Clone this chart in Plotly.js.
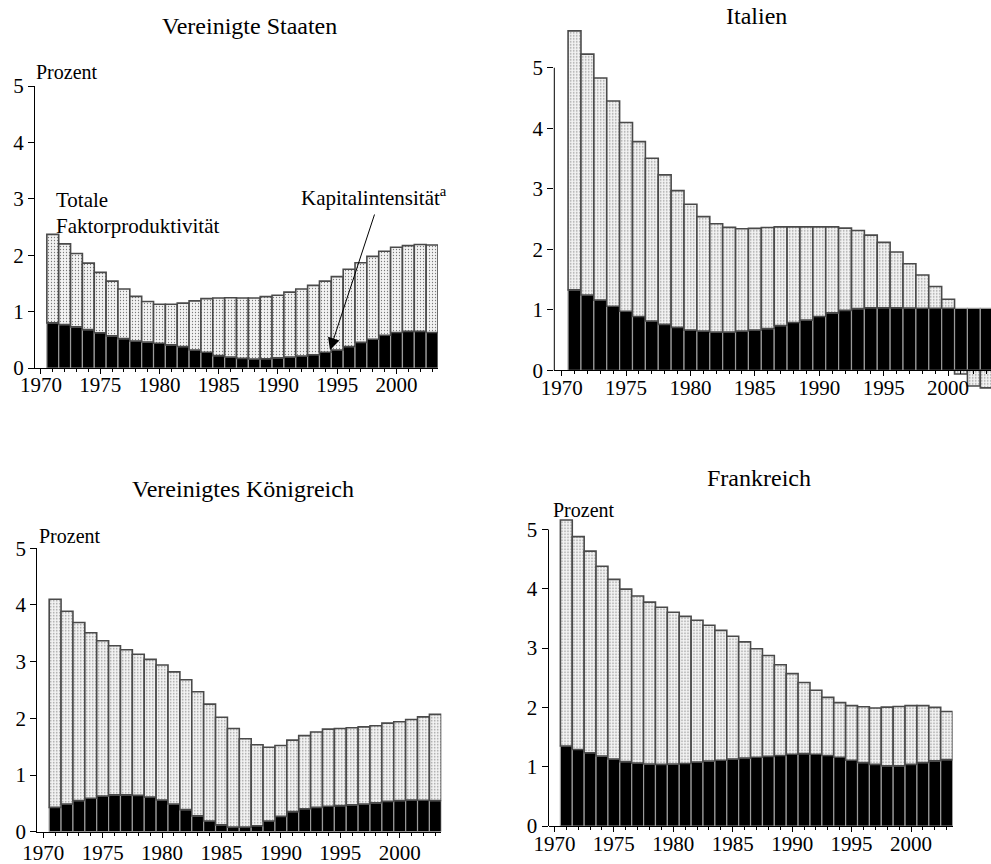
<!DOCTYPE html>
<html>
<head>
<meta charset="utf-8">
<script src="https://cdn.plot.ly/plotly-3.0.1.min.js"></script>
<style>html,body{margin:0;padding:0;background:#fff;}#chart{width:991px;height:864px;}</style>
</head>
<body>
<div id="chart"></div>
<script>
// ---- data (percent contributions) ----
const years = [1971,1972,1973,1974,1975,1976,1977,1978,1979,1980,1981,1982,1983,1984,1985,1986,1987,1988,1989,1990,1991,1992,1993,1994,1995,1996,1997,1998,1999,2000,2001,2002,2003];
const xTickVals = [1970,1975,1980,1985,1990,1995,2000];
const xTickText = ["1970","1975","1980","1985","1990","1995","2000"];
const yTickVals = [0,1,2,3,4,5];

const usCap = [0.80,0.77,0.73,0.68,0.625,0.57,0.52,0.48,0.46,0.44,0.41,0.38,0.32,0.28,0.22,0.195,0.17,0.16,0.165,0.18,0.195,0.21,0.235,0.28,0.32,0.38,0.455,0.51,0.58,0.63,0.65,0.65,0.63];
const usTfp = [1.57,1.43,1.30,1.18,1.07,0.97,0.88,0.79,0.72,0.69,0.72,0.77,0.87,0.95,1.02,1.05,1.07,1.08,1.10,1.11,1.15,1.19,1.23,1.26,1.30,1.37,1.41,1.47,1.49,1.51,1.52,1.54,1.55];

const itCap = [1.33,1.245,1.16,1.06,0.975,0.89,0.815,0.76,0.71,0.665,0.65,0.633,0.633,0.65,0.665,0.69,0.74,0.79,0.83,0.89,0.95,0.99,1.02,1.035,1.035,1.035,1.03,1.025,1.025,1.025,1.025,1.025,1.025];
const itTfp = [4.28,3.98,3.67,3.39,3.12,2.89,2.69,2.47,2.26,2.08,1.89,1.79,1.73,1.69,1.68,1.67,1.63,1.58,1.54,1.48,1.42,1.36,1.29,1.20,1.08,0.92,0.73,0.55,0.36,0.15,-0.06,-0.26,-0.29];

const ukCap = [0.43,0.49,0.55,0.59,0.63,0.65,0.65,0.64,0.61,0.56,0.49,0.39,0.28,0.19,0.12,0.08,0.08,0.105,0.19,0.27,0.355,0.405,0.43,0.45,0.46,0.475,0.49,0.51,0.535,0.55,0.56,0.555,0.55];
const ukTfp = [3.67,3.40,3.14,2.92,2.74,2.63,2.56,2.49,2.43,2.38,2.33,2.29,2.19,2.06,1.90,1.74,1.56,1.43,1.30,1.25,1.26,1.29,1.33,1.36,1.36,1.36,1.36,1.36,1.38,1.39,1.42,1.47,1.52];

const frCap = [1.35,1.29,1.235,1.18,1.13,1.085,1.06,1.045,1.04,1.045,1.055,1.08,1.095,1.11,1.13,1.145,1.16,1.175,1.19,1.21,1.22,1.21,1.19,1.16,1.11,1.07,1.04,1.015,1.015,1.04,1.07,1.10,1.12];
const frTfp = [3.81,3.59,3.40,3.20,3.03,2.91,2.82,2.73,2.65,2.56,2.48,2.39,2.29,2.19,2.07,1.96,1.83,1.70,1.53,1.36,1.20,1.08,0.98,0.92,0.92,0.94,0.95,0.99,1.00,0.99,0.96,0.90,0.81];

const titles = ["Vereinigte Staaten","Italien","Vereinigtes Königreich","Frankreich"];
const unitLabel = "Prozent";
const tfpLabel1 = "Totale";
const tfpLabel2 = "Faktorproduktivität";
const capLabel = "Kapitalintensität<sup>a</sup>";

// ---- styling ----
const FONT = "Liberation Serif, Times New Roman, serif";
const W = 991, H = 864;
const px = v => v / W;
const py = v => (H - v) / H;

function capTrace(y, ax) {
  return {type:'bar', x: years, y: y, xaxis:'x'+ax, yaxis:'y'+ax, name:'Kapitalintensität',
    marker:{color:'#000', line:{color:'#9a9a9a', width:1.2}}, hoverinfo:'skip', showlegend:false};
}
function tfpTrace(y, ax) {
  return {type:'bar', x: years, y: y, xaxis:'x'+ax, yaxis:'y'+ax, name:'Totale Faktorproduktivität',
    marker:{color:'#f3f3f3', line:{color:'#4a4a4a', width:1.6},
      pattern:{shape:'.', bgcolor:'#f3f3f3', fgcolor:'#7a7a7a', size:3, solidity:0.14}},
    hoverinfo:'skip', showlegend:false};
}

const data = [
  capTrace(usCap, ''), tfpTrace(usTfp, ''),
  capTrace(itCap, '2'), tfpTrace(itTfp, '2'),
  capTrace(ukCap, '3'), tfpTrace(ukTfp, '3'),
  capTrace(frCap, '4'), tfpTrace(frTfp, '4')
];

function xAxis(domain, range, anchor, standoff, extra) {
  return Object.assign({
    domain: domain, range: range, anchor: anchor,
    tickmode:'array', tickvals: xTickVals, ticktext: xTickText,
    ticks:'outside', ticklen:5, tickwidth:1, tickcolor:'#000',
    ticklabelstandoff: standoff,
    minor:{tickmode:'linear', tick0:1970, dtick:1, ticks:'outside', ticklen:3, tickcolor:'#000', tickwidth:1},
    showline:true, linecolor:'#000', linewidth:1,
    showgrid:false, zeroline:false, fixedrange:true,
    tickfont:{family:FONT, size:21, color:'#000'}
  }, extra || {});
}
function yAxis(domain, range, anchor, showline) {
  return {
    domain: domain, range: range, anchor: anchor,
    tickmode:'array', tickvals: yTickVals,
    ticks:'outside', ticklen:6, tickwidth:1, tickcolor:'#000',
    showline: showline, linecolor:'#000', linewidth:1,
    showgrid:false, zeroline:false, fixedrange:true,
    tickfont:{family:FONT, size:21, color:'#000'}
  };
}

const layout = {
  width: W, height: H,
  margin:{l:0, r:0, t:0, b:0},
  paper_bgcolor:'#fff', plot_bgcolor:'rgba(0,0,0,0)',
  barmode:'relative', bargap:0,
  showlegend:false,
  xaxis:  xAxis([px(35), px(438)], [1969.5, 2003.5], 'y', -7),
  yaxis:  yAxis([py(368), py(86)], [0, 5], 'x', true),
  xaxis2: xAxis([px(554.3), 1], [1969.43, 2003.33], 'free', -7, {position: py(370.3)}),
  yaxis2: yAxis([py(391.5), py(25.4)], [-0.35, 5.7], 'x2', false),
  xaxis3: xAxis([px(37.3), px(441.3)], [1969.5, 2003.5], 'y3', -3),
  yaxis3: yAxis([py(831.7), py(548.3)], [0, 5], 'x3', true),
  xaxis4: xAxis([px(548.5), px(952.6)], [1969.5, 2003.5], 'y4', -6),
  yaxis4: yAxis([py(826), py(514.7)], [0, 5.25], 'x4', false),
  shapes: [
    {type:'line', xref:'x2 domain', yref:'y2', x0:0, x1:0, y0:0, y1:5, line:{color:'#000', width:1}},
    {type:'line', xref:'x4 domain', yref:'y4', x0:0, x1:0, y0:0, y1:5, line:{color:'#000', width:1}}
  ],
  annotations: [
    {text: titles[0], xref:'paper', yref:'paper', x:px(249), y:py(26), xanchor:'center', yanchor:'middle', showarrow:false, font:{family:FONT, size:24, color:'#000'}},
    {text: titles[1], xref:'paper', yref:'paper', x:px(756), y:py(16), xanchor:'center', yanchor:'middle', showarrow:false, font:{family:FONT, size:24, color:'#000'}},
    {text: titles[2], xref:'paper', yref:'paper', x:px(243), y:py(489), xanchor:'center', yanchor:'middle', showarrow:false, font:{family:FONT, size:24, color:'#000'}},
    {text: titles[3], xref:'paper', yref:'paper', x:px(759), y:py(478), xanchor:'center', yanchor:'middle', showarrow:false, font:{family:FONT, size:24, color:'#000'}},
    {text: unitLabel, xref:'paper', yref:'paper', x:px(34), y:py(72), xanchor:'left', yanchor:'middle', showarrow:false, font:{family:FONT, size:20, color:'#000'}},
    {text: unitLabel, xref:'paper', yref:'paper', x:px(37), y:py(536), xanchor:'left', yanchor:'middle', showarrow:false, font:{family:FONT, size:20, color:'#000'}},
    {text: unitLabel, xref:'paper', yref:'paper', x:px(551), y:py(510), xanchor:'left', yanchor:'middle', showarrow:false, font:{family:FONT, size:20, color:'#000'}},
    {text: tfpLabel1, xref:'paper', yref:'paper', x:px(54), y:py(200), xanchor:'left', yanchor:'middle', showarrow:false, font:{family:FONT, size:21, color:'#000'}},
    {text: tfpLabel2, xref:'paper', yref:'paper', x:px(54), y:py(226), xanchor:'left', yanchor:'middle', showarrow:false, font:{family:FONT, size:21, color:'#000'}},
    {text: capLabel, xref:'paper', yref:'paper', x:px(299), y:py(196), xanchor:'left', yanchor:'middle', showarrow:false, font:{family:FONT, size:21, color:'#000'}},
    {text:'', xref:'paper', yref:'paper', x:px(330), y:py(350), showarrow:true, ax:45, ay:-137,
      arrowhead:2, arrowsize:2.4, arrowwidth:1, arrowcolor:'#000', font:{size:2}}
  ]
};

Plotly.newPlot('chart', data, layout, {staticPlot:true, displayModeBar:false});
</script>
</body>
</html>
